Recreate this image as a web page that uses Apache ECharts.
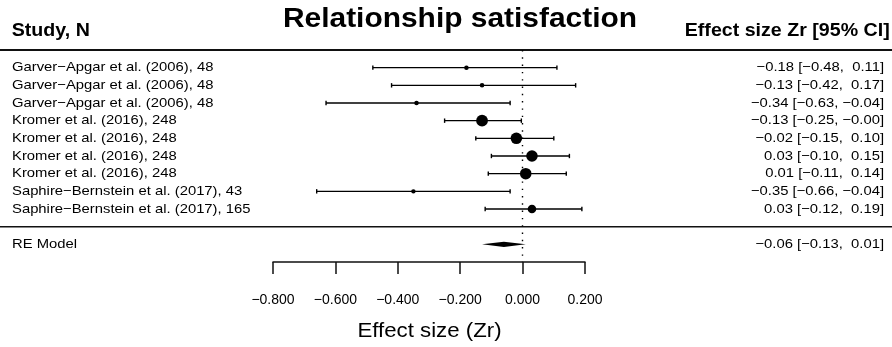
<!DOCTYPE html>
<html>
<head>
<meta charset="utf-8">
<style>
  html, body { margin: 0; padding: 0; background: #fff; }
  #chart { width: 892px; height: 347px; }
</style>
<script src="https://cdn.jsdelivr.net/npm/echarts@6/dist/echarts.min.js"></script>
</head>
<body>
<div id="chart"></div>
<script>
// Studies (author/year) and sample sizes
const studyNames = [
  'Garver−Apgar et al. (2006)',
  'Garver−Apgar et al. (2006)',
  'Garver−Apgar et al. (2006)',
  'Kromer et al. (2016)',
  'Kromer et al. (2016)',
  'Kromer et al. (2016)',
  'Kromer et al. (2016)',
  'Saphire−Bernstein et al. (2017)',
  'Saphire−Bernstein et al. (2017)'
];
const sampleSizes = [48, 48, 48, 248, 248, 248, 248, 43, 165];

// Effect sizes (Fisher's Zr) with 95% confidence limits
const estimates = [-0.18, -0.13, -0.34, -0.13, -0.02, 0.03, 0.01, -0.35, 0.03];
const lowerCI   = [-0.48, -0.42, -0.63, -0.25, -0.15, -0.10, -0.11, -0.66, -0.12];
const upperCI   = [ 0.11,  0.17, -0.04, -0.004, 0.10, 0.15, 0.14, -0.04, 0.19];

// Random-effects summary
const reEstimate = -0.06;
const reLower = -0.13;
const reUpper = 0.01;

// Axis ticks
const xTicks = [-0.8, -0.6, -0.4, -0.2, 0.0, 0.2];

const FONT = '"Liberation Sans", Arial, Helvetica, sans-serif';
const TEXT_SCALE = 1.14;

function fmt(v) {
  return v.toFixed(2).replace('-', '−');
}
function padded(v) {
  const s = fmt(v);
  return s.charAt(0) === '−' ? s : ' ' + s;
}
function ciText(est, lo, hi) {
  return fmt(est) + ' [' + padded(lo) + ', ' + padded(hi) + ']';
}

// marker diameter from inverse-variance weight
const weights = lowerCI.map((lo, i) => {
  const se = (upperCI[i] - lo) / 3.92;
  return 1 / (se * se);
});
const wMin = Math.min(...weights), wMax = Math.max(...weights);
const diameters = weights.map(w => 4.4 + 7.4 * (w - wMin) / (wMax - wMin));

const nStudies = estimates.length;
const reRow = nStudies + 2;
const axisRow = nStudies + 3;

const studyData = estimates.map((e, i) => [e, i + 1, lowerCI[i], upperCI[i], diameters[i]]);

function rowText(x, y, text, align) {
  return {
    type: 'text', x: x, y: y, scaleX: TEXT_SCALE,
    style: {
      text: text, fill: '#000', font: '13px ' + FONT,
      align: align, textAlign: align, verticalAlign: 'middle', textVerticalAlign: 'middle'
    }
  };
}

const chart = echarts.init(document.getElementById('chart'), null, { renderer: 'canvas' });

chart.setOption({
  animation: false,
  backgroundColor: '#fff',
  grid: { left: 273, right: 307, top: 50, bottom: 85, containLabel: false, outerBoundsMode: 'none' },
  xAxis: {
    type: 'value', position: 'bottom',
    min: xTicks[0], max: xTicks[xTicks.length - 1], interval: 0.2,
    axisLine: { show: true, onZero: false, lineStyle: { color: '#111', width: 1.5 } },
    axisTick: { show: true, length: 12, lineStyle: { color: '#111', width: 1.5 } },
    splitLine: { show: false },
    axisLabel: {
      margin: 31, fontSize: 14, fontFamily: FONT, color: '#000',
      formatter: v => (Math.abs(v) < 1e-9 ? 0 : v).toFixed(3).replace('-', '−')
    }
  },
  yAxis: {
    type: 'value', min: 0, max: axisRow, inverse: true, show: false
  },
  graphic: {
    elements: [
      {
        type: 'text', x: 460, y: 19.7, scaleX: 1.108,
        style: { text: 'Relationship satisfaction', fill: '#000', font: 'bold 27px ' + FONT,
                 align: 'center', textAlign: 'center', verticalAlign: 'middle', textVerticalAlign: 'middle' }
      },
      {
        type: 'text', x: 11.7, y: 31, scaleX: 1.09,
        style: { text: 'Study, N', fill: '#000', font: 'bold 18px ' + FONT,
                 align: 'left', textAlign: 'left', verticalAlign: 'middle', textVerticalAlign: 'middle' }
      },
      {
        type: 'text', x: 889.7, y: 31, scaleX: 1.09,
        style: { text: 'Effect size Zr [95% CI]', fill: '#000', font: 'bold 18px ' + FONT,
                 align: 'right', textAlign: 'right', verticalAlign: 'middle', textVerticalAlign: 'middle' }
      },
      {
        type: 'text', x: 429.5, y: 332, scaleX: 1.14,
        style: { text: 'Effect size (Zr)', fill: '#000', font: '19.5px ' + FONT,
                 align: 'center', textAlign: 'center', verticalAlign: 'middle', textVerticalAlign: 'middle' }
      }
    ]
  },
  series: [
    {
      // full-width rules above and below the study rows
      type: 'custom', clip: false, silent: true,
      data: [[0, 0, 2], [0, nStudies + 1, 1.5]],
      renderItem: (params, api) => {
        const y = api.coord([0, api.value(1)])[1];
        return {
          type: 'line',
          shape: { x1: 0, y1: y, x2: api.getWidth(), y2: y },
          style: { stroke: '#111', lineWidth: api.value(2) }
        };
      }
    },
    {
      // individual studies: CI whisker, weighted marker, labels
      type: 'custom', clip: false, silent: true,
      data: studyData,
      renderItem: (params, api) => {
        const i = params.dataIndex;
        const row = api.value(1);
        const pe = api.coord([api.value(0), row]);
        const pl = api.coord([api.value(2), row]);
        const ph = api.coord([api.value(3), row]);
        const y = pe[1];
        const cap = 2.2;
        const stroke = { stroke: '#000', lineWidth: 1.4 };
        return {
          type: 'group',
          children: [
            { type: 'line', shape: { x1: pl[0], y1: y, x2: ph[0], y2: y }, style: stroke },
            { type: 'line', shape: { x1: pl[0], y1: y - cap, x2: pl[0], y2: y + cap }, style: stroke },
            { type: 'line', shape: { x1: ph[0], y1: y - cap, x2: ph[0], y2: y + cap }, style: stroke },
            { type: 'circle', shape: { cx: pe[0], cy: y, r: api.value(4) / 2 }, style: { fill: '#000' } },
            rowText(12, y, studyNames[i] + ', ' + sampleSizes[i], 'left'),
            rowText(api.getWidth() - 8, y, ciText(estimates[i], lowerCI[i], upperCI[i]), 'right')
          ]
        };
      }
    },
    {
      // random-effects summary diamond
      type: 'custom', clip: false, silent: true,
      data: [[reEstimate, reRow, reLower, reUpper]],
      renderItem: (params, api) => {
        const row = api.value(1);
        const pe = api.coord([api.value(0), row]);
        const pl = api.coord([api.value(2), row]);
        const ph = api.coord([api.value(3), row]);
        const y = pe[1];
        const h = 2.7;
        return {
          type: 'group',
          children: [
            {
              type: 'polygon',
              shape: { points: [[pl[0], y], [pe[0], y - h], [ph[0], y], [pe[0], y + h]] },
              style: { fill: '#000' }
            },
            rowText(12, y, 'RE Model', 'left'),
            rowText(api.getWidth() - 8, y, ciText(reEstimate, reLower, reUpper), 'right')
          ]
        };
      },
      markLine: {
        silent: true, symbol: 'none', animation: false,
        label: { show: false },
        lineStyle: { color: '#000', width: 1.4, type: [1.4, 5.9] },
        data: [{ xAxis: 0 }]
      }
    }
  ]
});
</script>
</body>
</html>
